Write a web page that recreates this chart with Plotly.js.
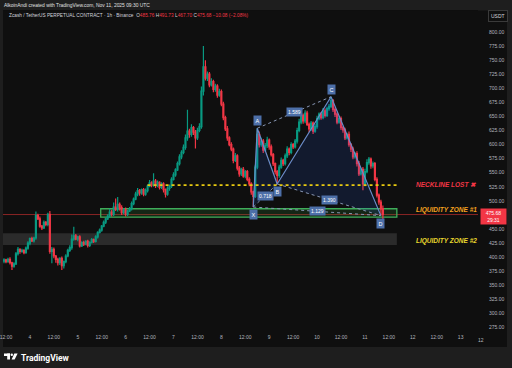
<!DOCTYPE html>
<html><head><meta charset="utf-8">
<script src="https://cdn.plot.ly/plotly-3.0.1.min.js"></script>
<style>html,body{margin:0;padding:0;background:#1e1e1e;overflow:hidden}#chart{width:512px;height:368px;}</style>
</head><body><div id="chart"></div>
<script>
// ---- data (1h candles, ZEC/USDT perp, first candle Nov 3 11:00) ----
const startTime = Date.UTC(2025, 10, 3, 11);
const firstOpen = 393;
const closes = [
 395,392,396,390,384,388,406,414,410,412,
 408,416,425,433,429,434,474,468,455,452,
 462,458,476,410,414,402,396,390,398,385,
 392,402,412,417,432,438,432,436,420,426,
 423,428,421,426,431,428,436,444,448,455,
 462,468,473,480,476,489,485,494,488,479,
 484,476,482,486,495,503,512,518,514,520,
 512,518,526,532,528,535,527,533,524,530,
 520,512,522,526,538,546,555,566,578,586,
 595,612,624,618,630,622,612,625,632,695,
 738,718,725,706,712,698,704,688,694,672,
 648,628,612,600,592,572,580,558,548,556,
 544,552,538,530,516,508,560,618,600,606,
 590,598,608,596,582,566,552,545,560,572,
 566,580,592,586,600,596,606,625,640,652,
 642,656,636,628,638,624,632,646,654,648,
 660,652,664,668,678,662,654,640,646,630,
 626,612,618,600,592,578,584,566,548,556,
 530,552,568,574,562,566,538,510,498,485.76,
 475.68
];
const upperWick = [
 3,2,3,4,2,3,3,4,2,3, 2,3,3,2,3,2,7,3,4,2, 3,2,3,6,4,3,2,3,2,3,
 2,3,3,4,8,16,3,2,3,2, 3,2,3,2,3,2,3,2,3,2, 3,2,3,6,4,8,15,13,3,4,
 3,4,2,3,4,3,4,5,3,2, 3,4,3,5,3,14,4,3,2,3, 3,2,4,3,4,5,3,4,5,4,
 5,6,38,4,6,3,4,5,6,8, 37,12,5,4,6,3,4,3,5,4, 4,3,5,3,4,3,5,3,4,3,
 4,3,3,4,3,2,4,11,5,6, 4,5,6,3,4,3,2,3,4,5, 3,4,5,3,4,3,4,5,6,4,
 3,5,4,3,4,3,4,5,3,4, 5,4,3,4,7,3,4,3,5,4, 3,4,3,5,3,4,3,4,5,3,
 4,5,6,4,3,4,3,4,3,4, 5.97
];
const lowerWick = [
 4,3,2,3,7,3,2,3,4,2, 3,2,3,4,2,3,3,2,3,4, 2,3,3,4,21,4,6,5,4,8,
 5,3,2,3,4,3,2,4,3,2, 3,2,4,3,2,3,2,3,2,3, 2,3,2,3,4,3,3,4,5,4,
 3,4,3,2,3,3,2,4,5,3, 4,3,3,2,4,3,4,3,4,3, 5,6,3,4,3,2,3,2,3,4,
 3,4,5,6,4,5,19,4,3,4, 8,4,5,4,3,5,4,5,3,4, 5,4,5,3,4,5,3,4,5,4,
 3,4,3,4,5,19,3,4,5,4, 5,3,4,5,3,4,5,15,4,3, 4,3,4,5,3,4,3,4,3,4,
 5,4,3,6,4,5,3,4,3,4, 3,4,3,4,3,4,5,4,3,4, 5,4,3,4,5,4,3,5,4,3,
 11,4,3,4,5,4,3,4,5,12, 7.98
];
const priceTicks = [275,300,325,350,375,400,425,450,500,525,550,575,600,625,650,675,700,725,750,775,800];
const xTickHours = [1,13,25,37,49,61,73,85,97,109,121,133,145,157,169,181,193,205,217,229];
const xTickLabels = ['12:00','4','12:00','5','12:00','6','12:00','7','12:00','8','12:00','9','12:00','10','12:00','11','12:00','12','12:00','13'];
const patternNames = ['X','A','B','C','D'];
const patternHour = [125,127,137,164,189];
const patternPrice = [489,629,530,685,473.76];
const ratioLabels = ['0.718','1.589','1.390','1.129'];
const lastPrice = 475.68;
const lastCountdown = '29:31';
const necklinePrice = 528;
const zone1 = [471, 486];
const zone2 = [421.5, 442.3];

// ---- helpers ----
const H = 3600000;
const fmt = ms => new Date(ms).toISOString().slice(0,16).replace('T',' ');
const tAt = h => fmt(startTime + h*H);
const times = closes.map((_, i) => tAt(i));
const opens = closes.map((c, i) => i === 0 ? firstOpen : closes[i-1]);
const highs = closes.map((c, i) => Math.max(opens[i], c) + upperWick[i]);
const lows = closes.map((c, i) => Math.min(opens[i], c) - lowerWick[i]);
const px2x = p => (p - 3) / 475;
const py2y = p => (333 - p) / 323;

const pT = patternHour.map(tAt);
const blue = '#6b8cc9';

const traces = [];
[[0,1,2],[2,3,4]].forEach(tri => {
  traces.push({type:'scatter', mode:'lines', x:[...tri, tri[0]].map(k=>pT[k]), y:[...tri, tri[0]].map(k=>patternPrice[k]),
    fill:'toself', fillcolor:'rgba(41,98,255,0.13)', line:{width:0}, hoverinfo:'skip', showlegend:false});
});
traces.push({type:'candlestick', x:times, open:opens, high:highs, low:lows, close:closes,
  increasing:{line:{color:'#089981', width:1.2}, fillcolor:'#089981'},
  decreasing:{line:{color:'#f23645', width:1.2}, fillcolor:'#f23645'},
  whiskerwidth:0, hoverinfo:'skip', showlegend:false});
const pairs = [[0,2],[1,3],[2,4],[0,4]];
const dx = [], dy = [];
pairs.forEach(([a,b]) => { dx.push(pT[a], pT[b], null); dy.push(patternPrice[a], patternPrice[b], null); });
traces.push({type:'scatter', mode:'lines', x:dx, y:dy, line:{color:'#8796b3', width:1, dash:'dot'}, hoverinfo:'skip', showlegend:false});
traces.push({type:'scatter', mode:'lines', x:pT, y:patternPrice, line:{color:blue, width:1.2}, hoverinfo:'skip', showlegend:false});

const annotations = [];
const labStyle = {showarrow:false, font:{family:'Liberation Sans', size:5.5, color:'#ffffff'}, bgcolor:'#4d6fa8', borderpad:1.5};
patternNames.forEach((n, i) => {
  const up = (n === 'A' || n === 'C');
  annotations.push(Object.assign({}, labStyle, {text:n, x:pT[i], y:patternPrice[i], xref:'x', yref:'y',
    yanchor: up ? 'bottom' : 'top', yshift: up ? 2 : -2}));
});
pairs.forEach(([a,b], k) => {
  const mid = fmt(startTime + (patternHour[a] + patternHour[b]) / 2 * H);
  annotations.push(Object.assign({}, labStyle, {text:ratioLabels[k], x:mid, y:(patternPrice[a]+patternPrice[b])/2,
    xref:'x', yref:'y', font:{family:'Liberation Sans', size:5, color:'#ffffff'}, borderpad:1}));
});
const sideText = (txt, color, py) => ({text:'<b><i>'+txt+'</i></b>', xref:'paper', yref:'paper', x:px2x(414), y:py2y(py),
  xanchor:'left', yanchor:'middle', showarrow:false, font:{family:'Liberation Sans', size:6.5, color:color}});
annotations.push(sideText('NECKLINE LOST <span style="color:#f23645">✖</span>', '#f23645', 184));
annotations.push(sideText('LIQUIDITY ZONE #1', '#f5a21f', 210));
annotations.push(sideText('LIQUIDITY ZONE #2', '#e9d72e', 241));
annotations.push({text: lastPrice.toFixed(2) + '<br>' + lastCountdown, xref:'paper', yref:'y', x:1, y:lastPrice,
  xanchor:'left', yanchor:'middle', xshift:2, yshift:-2, showarrow:false, bgcolor:'#f23645', borderpad:1, width:23,
  font:{family:'Liberation Sans', size:5, color:'#ffffff'}});
annotations.push({text:'AlkoinAndi created with TradingView.com, Nov 11, 2025 09:30 UTC', xref:'paper', yref:'paper',
  x:px2x(2), y:py2y(5.5), xanchor:'left', yanchor:'middle', showarrow:false, font:{family:'Liberation Sans', size:4.9, color:'#e0e0e0'}});
const red = s => '<span style="color:#f23645">' + s + '</span>';
annotations.push({text:'Zcash / TetherUS PERPETUAL CONTRACT · 1h · Binance  O' + red('485.76') + ' H' + red('491.73') + ' L' + red('467.70') + ' C' + red('475.68') + ' ' + red('−10.08 (−2.08%)'),
  xref:'paper', yref:'paper', x:px2x(7), y:py2y(16), xanchor:'left', yanchor:'middle', showarrow:false,
  font:{family:'Liberation Sans', size:4.75, color:'#d1d4dc'}});
annotations.push({text:'USDT', xref:'paper', yref:'paper', x:px2x(498), y:py2y(16), xanchor:'center', yanchor:'middle', showarrow:false,
  bordercolor:'#3a3a3a', borderwidth:1, borderpad:2, bgcolor:'#0f0f0f', font:{family:'Liberation Sans', size:5, color:'#d1d4dc'}});
annotations.push({text:'12', xref:'paper', yref:'paper', x:px2x(481.5), y:py2y(340), xanchor:'center', yanchor:'middle', showarrow:false,
  font:{family:'Liberation Sans', size:5, color:'#b2b5be'}});
annotations.push({text:'<b>TradingView</b>', xref:'paper', yref:'paper', x:px2x(19), y:py2y(357.5), xanchor:'left', yanchor:'middle', showarrow:false,
  font:{family:'Roboto', size:8.5, color:'#ffffff'}});

const shapes = [
  {type:'rect', xref:'paper', yref:'paper', x0:px2x(3), x1:px2x(507), y0:py2y(347), y1:py2y(10.5), fillcolor:'#0f0f0f', line:{width:0}, layer:'below'},
  {type:'rect', xref:'x', yref:'y', x0:tAt(-2), x1:tAt(197), y0:zone2[0], y1:zone2[1], fillcolor:'#2b2b2b', line:{width:0}, layer:'below'},
  {type:'rect', xref:'x', yref:'y', x0:tAt(48.5), x1:tAt(197), y0:zone1[0], y1:zone1[1], fillcolor:'rgba(46,125,50,0.22)', line:{color:'#3fae5a', width:1.3}, layer:'below'},
  {type:'line', xref:'paper', yref:'y', x0:0, x1:1, y0:lastPrice, y1:lastPrice, line:{color:'#8a2525', width:1}, layer:'below'},
  {type:'line', xref:'x', yref:'y', x0:tAt(72), x1:tAt(197), y0:necklinePrice, y1:necklinePrice, line:{color:'#e8c910', width:1.6, dash:'dot'}, layer:'above'},
  {type:'rect', xref:'paper', yref:'paper', x0:px2x(4), x1:px2x(10), y0:py2y(356), y1:py2y(353.5), fillcolor:'#ffffff', line:{width:0}},
  {type:'rect', xref:'paper', yref:'paper', x0:px2x(7.2), x1:px2x(10), y0:py2y(359.5), y1:py2y(353.5), fillcolor:'#ffffff', line:{width:0}},
  {type:'circle', xref:'paper', yref:'paper', x0:px2x(10.6), x1:px2x(13), y0:py2y(356), y1:py2y(353.6), fillcolor:'#ffffff', line:{width:0}},
  {type:'path', xref:'paper', yref:'paper', path:'M '+px2x(14.3)+' '+py2y(353.5)+' L '+px2x(17.6)+' '+py2y(353.5)+' L '+px2x(14.6)+' '+py2y(359.5)+' L '+px2x(11.6)+' '+py2y(359.5)+' Z', fillcolor:'#ffffff', line:{width:0}}
];

const layout = {
  width:512, height:368,
  margin:{l:3, r:34, t:10, b:35, pad:0},
  paper_bgcolor:'#1e1e1e', plot_bgcolor:'#0f0f0f',
  showlegend:false, hovermode:false,
  xaxis:{type:'date', range:[fmt(startTime-0.5*H), fmt(startTime+237.7*H)], rangeslider:{visible:false},
    tickmode:'array', tickvals:xTickHours.map(tAt), ticktext:xTickLabels, showgrid:false, zeroline:false, showline:false,
    ticks:'', tickfont:{family:'Liberation Sans', size:5, color:'#b2b5be'}, ticklabeloverflow:'allow', automargin:false, fixedrange:true},
  yaxis:{side:'right', range:[265.2, 839.1], tickmode:'array', tickvals:priceTicks, ticktext:priceTicks.map(v=>v.toFixed(2)),
    showgrid:false, zeroline:false, showline:false, ticks:'', ticklabelstandoff:10,
    tickfont:{family:'Liberation Sans', size:5, color:'#b2b5be'}, automargin:false, fixedrange:true},
  shapes:shapes, annotations:annotations
};
Plotly.newPlot('chart', traces, layout, {staticPlot:true, displayModeBar:false});
</script>
</body></html>
